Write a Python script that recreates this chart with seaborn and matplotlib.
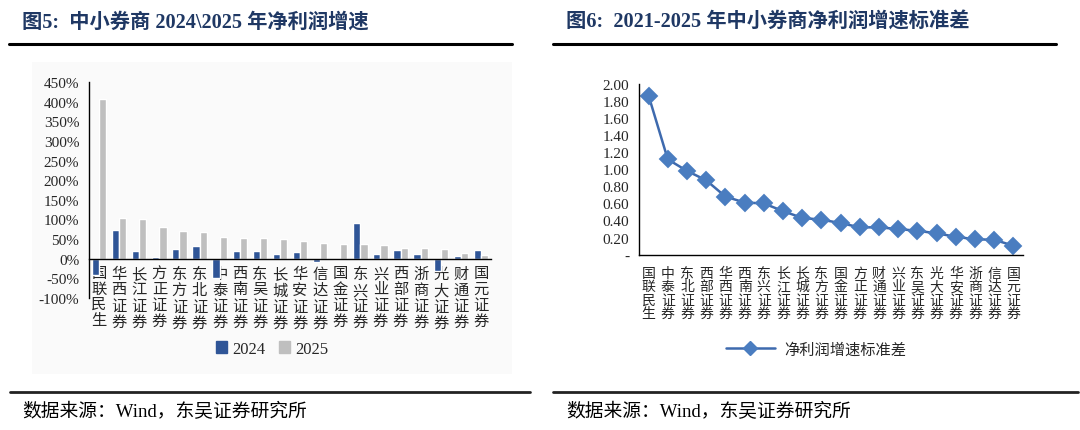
import numpy as np
import pandas as pd
import matplotlib
matplotlib.use("Agg")
import matplotlib.pyplot as plt
from matplotlib.lines import Line2D
from matplotlib.patches import Rectangle, Patch
import seaborn as sns

# ---- data ----
brokers_growth = ["国联民生", "华西证券", "长江证券", "方正证券", "东方证券", "东北证券", "中泰证券",
                  "西南证券", "东吴证券", "长城证券", "华安证券", "信达证券", "国金证券", "东兴证券",
                  "兴业证券", "西部证券", "浙商证券", "光大证券", "财通证券", "国元证券"]
growth_2024 = [-41, 74, 20, 5, 24, 33, -49, 19, 20, 12, 18, -8, -4, 91, 12, 22, 12, -31, 6, 22]
growth_2025 = [406, 103, 102, 81, 70, 68, 55, 53, 52, 51, 44, 41, 38, 38, 35, 27, 27, 24, 15, 10]

brokers_std = ["国联民生", "中泰证券", "东北证券", "西部证券", "华西证券", "西南证券", "东兴证券",
               "长江证券", "长城证券", "东方证券", "国金证券", "方正证券", "财通证券", "兴业证券",
               "东吴证券", "光大证券", "华安证券", "浙商证券", "信达证券", "国元证券"]
std_values = [1.86, 1.115, 0.98, 0.87, 0.68, 0.61, 0.60, 0.51, 0.43, 0.41, 0.37, 0.32, 0.32,
              0.30, 0.28, 0.25, 0.21, 0.18, 0.175, 0.105]

left_yticks = list(range(-100, 451, 50))
right_yticks = [0, 0.2, 0.4, 0.6, 0.8, 1.0, 1.2, 1.4, 1.6, 1.8, 2.0]

BLUE_BAR = "#2F5597"
GRAY_BAR = "#BFBFBF"
LINE_BLUE = "#3E6AAE"
MARK_BLUE = "#4A7DC0"
TITLE_COL = "#1F3864"

sns.set_theme(style="white")
plt.rcParams["font.family"] = ["Liberation Serif", "Noto Sans CJK SC", "DejaVu Sans"]
plt.rcParams["axes.unicode_minus"] = False
cjk = ["Noto Sans CJK SC", "DejaVu Sans"]
mixed = ["Liberation Serif", "Noto Sans CJK SC", "DejaVu Sans"]

W, H = 1080, 431
fig = plt.figure(figsize=(W / 100, H / 100), dpi=100)
fig.patch.set_facecolor("white")


def fx(px):
    return px / W


def fy(py):
    return 1 - py / H


# faint panel behind the left chart
fig.patches.append(Rectangle((fx(32), fy(375)), fx(512) - fx(32), fy(63) - fy(375),
                             transform=fig.transFigure, facecolor="#fafafa",
                             edgecolor="none", zorder=-5))

# titles and rules
fig.text(fx(22), fy(23), "图5:  中小券商 2024\\2025 年净利润增速", fontsize=14.6,
         fontweight="bold", color=TITLE_COL, va="center", ha="left", family=mixed)
fig.text(fx(566), fy(23), "图6:  2021-2025 年中小券商净利润增速标准差", fontsize=14.6,
         fontweight="bold", color=TITLE_COL, va="center", ha="left", family=mixed)
for x0, x1 in [(9, 512), (553, 1056)]:
    fig.add_artist(Line2D([fx(x0), fx(x1)], [fy(44.5)] * 2, color="black", lw=2.2,
                          transform=fig.transFigure))
for x0, x1 in [(10, 530), (553, 1078)]:
    fig.add_artist(Line2D([fx(x0), fx(x1)], [fy(393)] * 2, color="#222222", lw=2.0,
                          transform=fig.transFigure))
fig.text(fx(22), fy(412), "数据来源：Wind，东吴证券研究所", fontsize=13.5, color="black",
         va="center", ha="left", family=mixed)
fig.text(fx(566), fy(412), "数据来源：Wind，东吴证券研究所", fontsize=13.5, color="black",
         va="center", ha="left", family=mixed)

# ---- left: grouped bars ----
df = pd.DataFrame({
    "broker": brokers_growth * 2,
    "year": ["2024"] * len(brokers_growth) + ["2025"] * len(brokers_growth),
    "growth": growth_2024 + growth_2025,
})
ax1 = fig.add_axes([fx(89), fy(299), fx(491) - fx(89), fy(83) - fy(299)])
ax1.set_facecolor("none")
sns.barplot(data=df, x="broker", y="growth", hue="year", order=brokers_growth,
            palette={"2024": BLUE_BAR, "2025": GRAY_BAR}, width=0.72, saturation=1,
            errorbar=None, ax=ax1, legend=False)
ax1.set_ylim(-100, 450)
ax1.set_xlim(-0.5, len(brokers_growth) - 0.5)
ax1.set_yticks(left_yticks)
ax1.set_yticklabels([f"{v}%" for v in left_yticks], fontsize=11, family=mixed)
ax1.set_xticks(range(len(brokers_growth)))
ax1.set_xticklabels(["\n".join(b) for b in brokers_growth], fontsize=10, family=cjk,
                    linespacing=0.95, va="top")
ax1.set_xticks(np.arange(len(brokers_growth) + 1) - 0.5, minor=True)
ax1.tick_params(axis="x", which="major", length=0, pad=6)
ax1.tick_params(axis="x", which="minor", length=4, width=1, direction="out", color="black")
ax1.tick_params(axis="y", length=4, width=1, direction="out", color="black", pad=3)
ax1.set_xlabel("")
ax1.set_ylabel("")
for s in ["top", "right"]:
    ax1.spines[s].set_visible(False)
ax1.spines["bottom"].set_position(("data", 0))
for s in ["left", "bottom"]:
    ax1.spines[s].set_color("black")
    ax1.spines[s].set_linewidth(1)
fig.legend(handles=[Patch(color=BLUE_BAR, label="2024"), Patch(color=GRAY_BAR, label="2025")],
           loc="center", bbox_to_anchor=(fx(272), fy(350)), ncol=2, frameon=False,
           handlelength=0.7, handleheight=0.7, handletextpad=0.3,
           columnspacing=0.8, prop={"family": mixed, "size": 12})

# ---- right: std line ----
df_std = pd.DataFrame({"broker": brokers_std, "std": std_values})
ax2 = fig.add_axes([fx(639), fy(255.7), fx(1023) - fx(639), fy(84.7) - fy(255.7)])
ax2.set_facecolor("none")
sns.pointplot(data=df_std, x="broker", y="std", order=brokers_std, color=LINE_BLUE,
              markers="D", errorbar=None, ax=ax2, markersize=8, linewidth=1.8,
              markerfacecolor=MARK_BLUE, markeredgecolor=MARK_BLUE)
ax2.set_ylim(0, 2.0)
ax2.set_xlim(-0.5, len(brokers_std) - 0.5)
ax2.set_yticks(right_yticks)
ax2.set_yticklabels(["-" if v == 0 else f"{v:.2f}" for v in right_yticks], fontsize=11,
                    family=mixed)
ax2.set_xticks(range(len(brokers_std)))
ax2.set_xticklabels(["\n".join(b) for b in brokers_std], fontsize=10, family=cjk,
                    linespacing=0.95, va="top")
ax2.set_xticks(np.arange(len(brokers_std) + 1) - 0.5, minor=True)
ax2.tick_params(axis="x", which="major", length=0, pad=8)
ax2.tick_params(axis="x", which="minor", length=4, width=1, direction="out", color="black")
ax2.tick_params(axis="y", length=4, width=1, direction="out", color="black", pad=3)
ax2.set_xlabel("")
ax2.set_ylabel("")
for s in ["top", "right"]:
    ax2.spines[s].set_visible(False)
for s in ["left", "bottom"]:
    ax2.spines[s].set_color("black")
    ax2.spines[s].set_linewidth(1)
fig.legend(handles=[Line2D([0], [0], color=LINE_BLUE, lw=1.8, marker="D", markersize=7,
                           markerfacecolor=MARK_BLUE, markeredgecolor=MARK_BLUE,
                           label="净利润增速标准差")],
           loc="center", bbox_to_anchor=(fx(816), fy(350)), frameon=False,
           handlelength=3.2, handletextpad=0.6, prop={"family": cjk, "size": 11})

fig.savefig("out.png", dpi=100)
